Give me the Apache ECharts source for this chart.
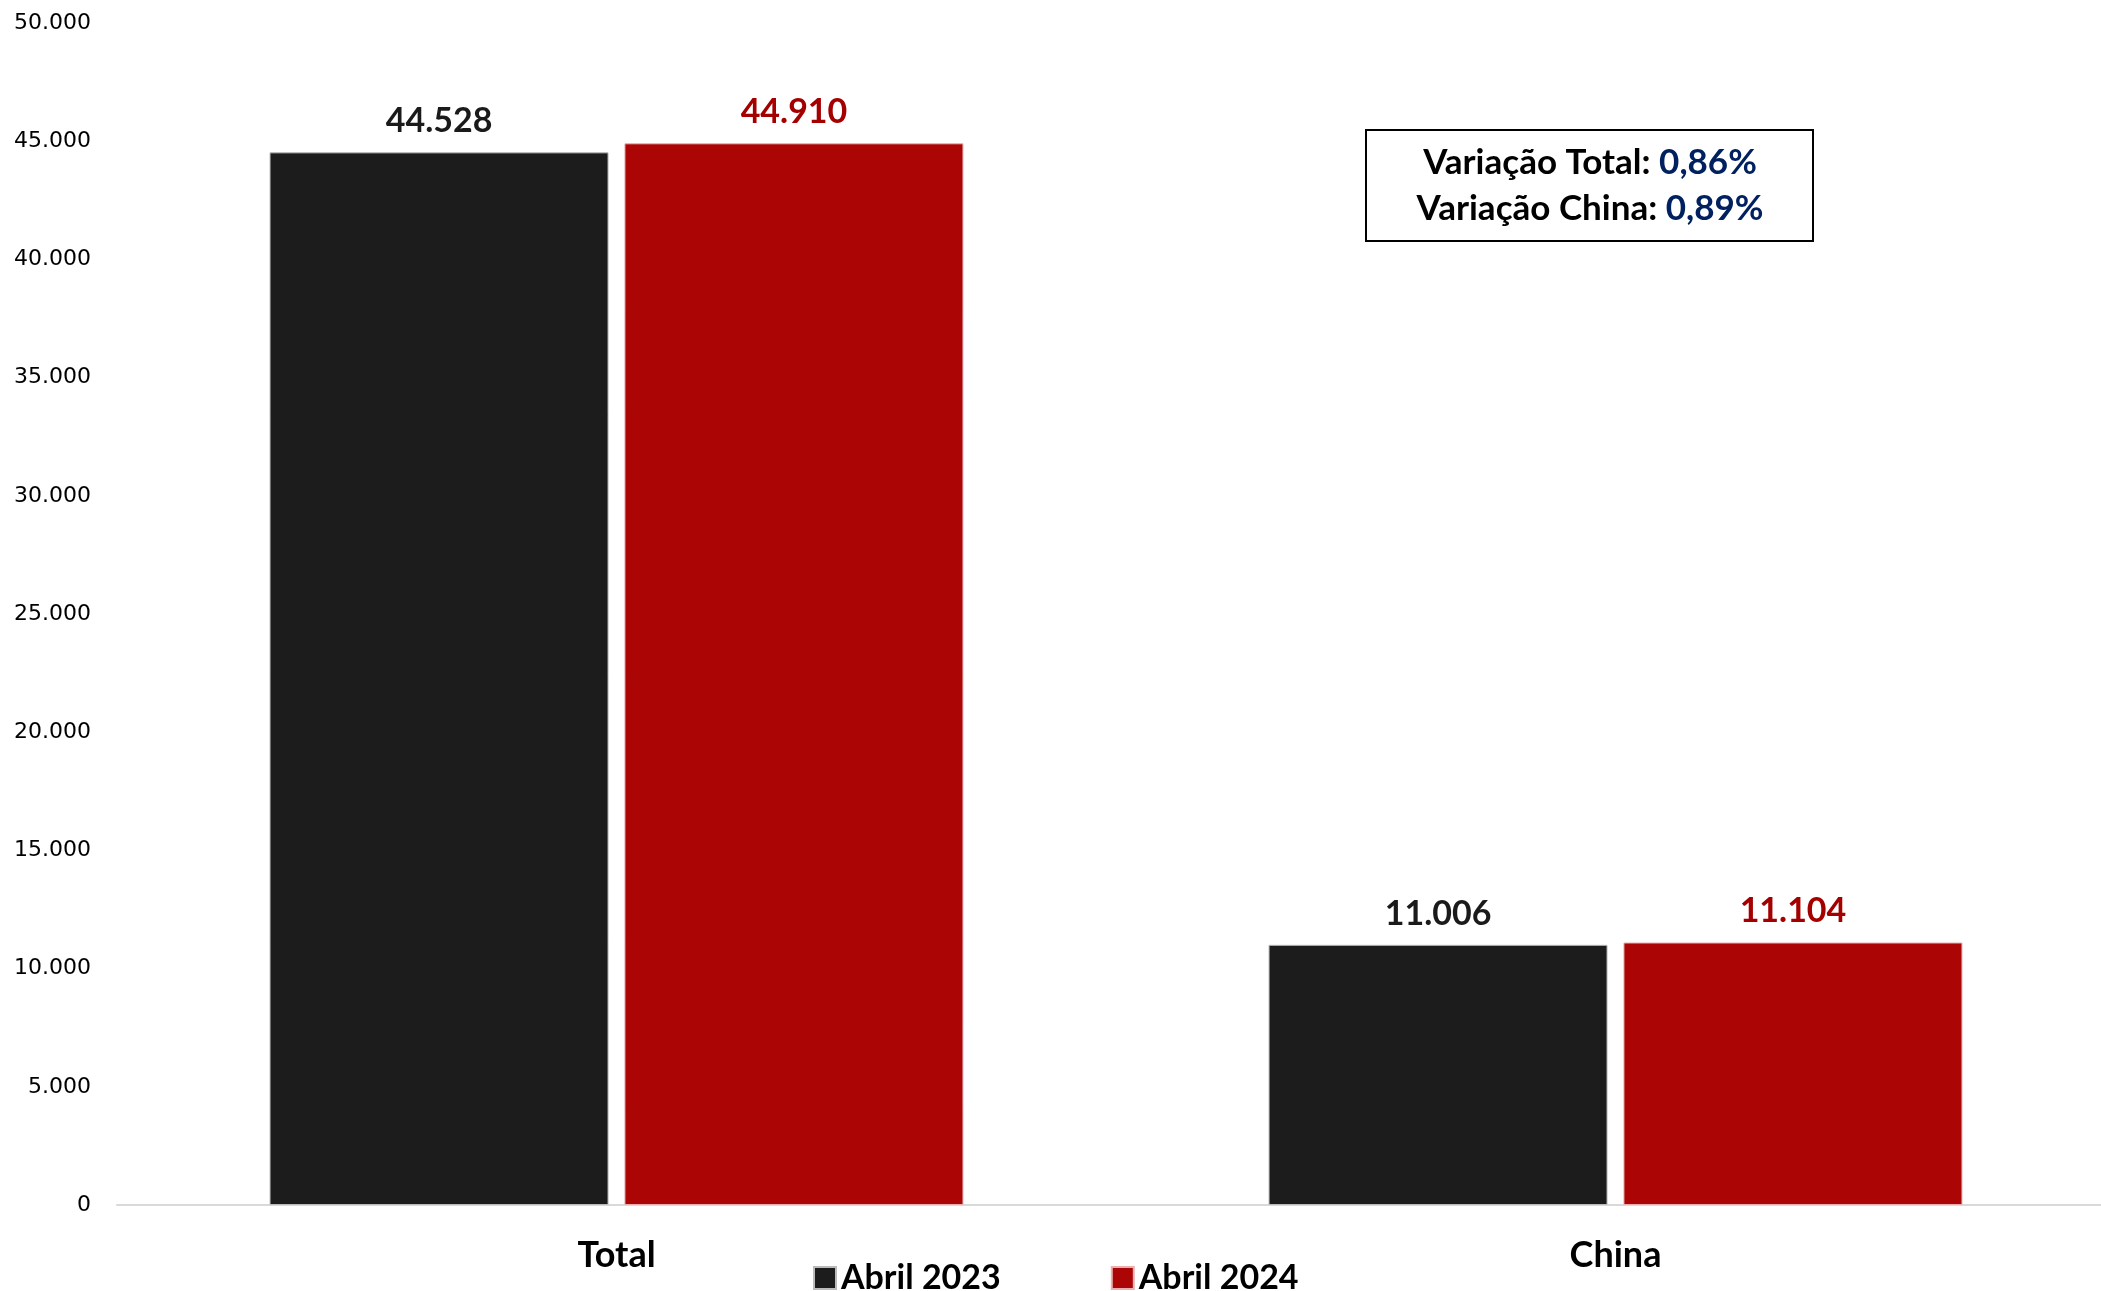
<!DOCTYPE html>
<html lang="pt-BR">
<head>
    <meta charset="UTF-8">
    <title>Abril 2023 x Abril 2024</title>
    <script src="https://cdn.jsdelivr.net/npm/echarts@6/dist/echarts.min.js"></script>
    <style>
        html, body { margin: 0; padding: 0; background: #fff; }
        #chart { width: 2101px; height: 1291px; }
    </style>
</head>
<body>
    <div id="chart"></div>
    <script>
        // dados
        const categorias = ['Total', 'China'];
        const nomesSeries = ['Abril 2023', 'Abril 2024'];
        const abril2023 = [44528, 11006];
        const abril2024 = [44910, 11104];
        const variacoes = [['Variação Total: ', '0,86%'], ['Variação China: ', '0,89%']];

        const fonte = 'Lato, "Open Sans", sans-serif';
        const preto = '#1c1c1c';
        const vermelho = '#ab0505';

        function fmt(v) {
            return String(v).replace(/\B(?=(\d{3})+(?!\d))/g, '.');
        }

        const chart = echarts.init(document.getElementById('chart'));

        const rotulo = cor => ({
            show: true,
            position: 'top',
            distance: 14,
            color: cor,
            fontFamily: fonte,
            fontWeight: 'bold',
            fontSize: 34,
            formatter: p => fmt(p.value)
        });

        const option = {
            animation: false,
            backgroundColor: '#fff',
            grid: {
                left: 117,
                width: 1998,
                top: 23,
                bottom: 86,
                containLabel: false,
                outerBoundsMode: 'none'
            },
            legend: {
                data: nomesSeries,
                left: 808,
                top: 1256,
                itemWidth: 22,
                itemHeight: 22,
                itemGap: 110,
                icon: 'rect',
                textStyle: {
                    fontFamily: fonte,
                    fontWeight: 'bold',
                    fontSize: 34,
                    color: '#000'
                }
            },
            xAxis: {
                type: 'category',
                data: categorias,
                axisLine: { lineStyle: { color: '#d9d9d9', width: 2 } },
                axisTick: { show: false },
                axisLabel: {
                    margin: 32,
                    color: '#000',
                    fontFamily: fonte,
                    fontWeight: 'bold',
                    fontSize: 36
                }
            },
            yAxis: {
                type: 'value',
                min: 0,
                max: 50000,
                interval: 5000,
                splitLine: { show: false },
                axisLine: { show: false },
                axisTick: { show: false },
                axisLabel: {
                    margin: 26,
                    color: '#000',
                    fontFamily: '"DejaVu Sans", sans-serif',
                    fontSize: 22,
                    formatter: v => fmt(v)
                }
            },
            series: [
                {
                    name: nomesSeries[0],
                    type: 'bar',
                    data: abril2023,
                    barWidth: 339,
                    barGap: '4.7%',
                    itemStyle: { color: preto, borderColor: '#bbb', borderWidth: 1 },
                    label: rotulo('#1a1a1a')
                },
                {
                    name: nomesSeries[1],
                    type: 'bar',
                    data: abril2024,
                    barWidth: 339,
                    barGap: '4.7%',
                    itemStyle: { color: vermelho, borderColor: '#e8b0b0', borderWidth: 1 },
                    label: rotulo('#a50000')
                }
            ],
            graphic: [
                {
                    type: 'group',
                    left: 1365,
                    top: 129,
                    children: [
                        {
                            type: 'rect',
                            shape: { x: 0, y: 0, width: 447, height: 111 },
                            style: { fill: '#fff', stroke: '#000', lineWidth: 2 }
                        },
                        {
                            type: 'text',
                            x: 224,
                            y: 56,
                            style: {
                                text: variacoes.map(l => '{b|' + l[0] + '}{v|' + l[1] + '}').join('\n'),
                                align: 'center',
                                verticalAlign: 'middle',
                                rich: {
                                    b: { fontFamily: fonte, fontWeight: 'bold', fontSize: 35, fill: '#000', lineHeight: 46 },
                                    v: { fontFamily: fonte, fontWeight: 'bold', fontSize: 35, fill: '#002060', lineHeight: 46 }
                                }
                            }
                        }
                    ]
                }
            ]
        };

        chart.setOption(option);
    </script>
</body>
</html>
